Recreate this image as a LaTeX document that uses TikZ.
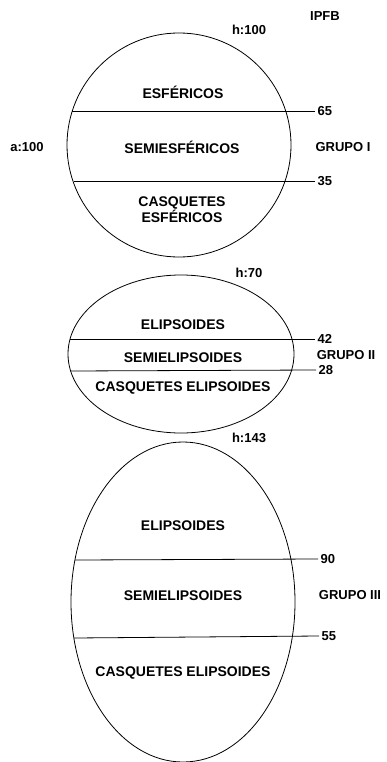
\documentclass[tikz,border=0pt]{standalone}
\usepackage{fontspec}
\setmainfont{Liberation Sans}
\begin{document}
\begin{tikzpicture}[x=1pt,y=-1pt]
\tikzstyle{every node}+=[inner sep=0pt, font=\bfseries\fontsize{13}{15}\selectfont]
\tikzstyle{num}=[anchor=west, inner xsep=2.5pt]
\tikzstyle{zona}=[font=\bfseries\fontsize{14}{15}\selectfont]
\tikzstyle{corte}=[black, line width=0.8pt]
\useasboundingbox (0,0) rectangle (387,762);
\node (ipfb) at (325,16) {IPFB};
% grupo I
\draw [black, line width=0.8pt] (179,145) circle (112);
\node (h100) at (249,30) {h:100};
\node (a100) at (27,147) {a:100};
\node (g1) at (343,147) {GRUPO I};
\node (esf) [zona] at (183,92) {ESFÉRICOS};
\node (semiesf) [zona] at (182,147) {SEMIESFÉRICOS};
\node (casqesf) [zona, align=center] at (182,210) {CASQUETES\\[0pt]ESFÉRICOS};
\coordinate (e65) at (72,111);
\coordinate (e35) at (73.6,181);
\node (n65) [num] at (315,111) {65};
\node (n35) [num] at (315,181) {35};
\draw [corte] (e65) -- (n65.west);
\draw [corte] (e35) -- (n35.west);
% grupo II
\draw [black, line width=0.8pt] (181,354) ellipse [x radius=113, y radius=79];
\node (h70) at (249,273) {h:70};
\node (g2) at (346,355) {GRUPO II};
\node (elip2) [zona] at (183,325) {ELIPSOIDES};
\node (semi2) [zona] at (183,358) {SEMIELIPSOIDES};
\node (casq2) [zona] at (183,387.5) {CASQUETES ELIPSOIDES};
\coordinate (e42) at (70,339);
\coordinate (e28) at (70.6,371);
\node (n42) [num] at (315,339) {42};
\node (n28) [num] at (316,370) {28};
\draw [corte] (e42) -- (n42.west);
\draw [corte] (e28) -- (n28.west);
% grupo III
\draw [black, line width=0.8pt] (183,602) ellipse [x radius=112, y radius=160];
\node (h143) at (249,438) {h:143};
\node (g3) at (350,595) {GRUPO III};
\node (elip3) [zona] at (183,526) {ELIPSOIDES};
\node (semi3) [zona] at (183,596) {SEMIELIPSOIDES};
\node (casq3) [zona] at (183,673) {CASQUETES ELIPSOIDES};
\coordinate (e90) at (75,560);
\coordinate (e55) at (74,638);
\node (n90) [num] at (318,559) {90};
\node (n55) [num] at (319,636) {55};
\draw [corte] (e90) -- (n90.west);
\draw [corte] (e55) -- (n55.west);
\end{tikzpicture}
\end{document}
